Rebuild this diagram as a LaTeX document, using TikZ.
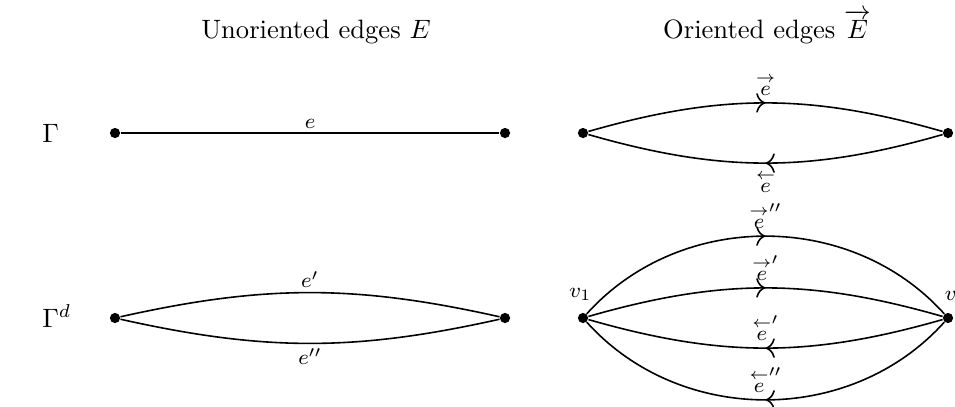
\documentclass[tikz,border=0pt]{standalone}
\usepackage{amsmath,amssymb}
\usepackage{tikz}
\usetikzlibrary{arrows.meta, decorations.markings}

\begin{document}
\begin{tikzpicture}[
    x=0.01323cm, y=-0.01323cm,
    dot/.style={circle, fill, inner sep=0pt, minimum size=0.135cm},
    edge/.style={semithick},
    lbl/.style={font=\footnotesize, inner sep=1.5pt},
    midarrow/.style={postaction={decorate}, decoration={markings,
        mark=at position 0.5 with {\arrow{Computer Modern Rightarrow[scale=1.2]}}}},
  ]
    \useasboundingbox (0,0) rectangle (955,406);

    % Titles
    \node[anchor=base, inner sep=1pt] (tunor) at (316,38) {Unoriented edges $E$};
    \node[anchor=base, inner sep=1pt] (tor) at (767,38) {Oriented edges $\overrightarrow{E}$};
    \node[anchor=base west] (gam) at (33,142) {$\Gamma$};
    \node[anchor=base west] (gamd) at (33,327) {$\Gamma^d$};

    % Nodes
    \node[dot] (ga) at (115,133) {};
    \node[dot] (gb) at (505,133) {};
    \node[dot] (da) at (115,318) {};
    \node[dot] (db) at (505,318) {};
    \node[dot] (oa) at (583,133) {};
    \node[dot] (ob) at (948,133) {};
    \node[dot, label={[font=\footnotesize, label distance=1pt, xshift=-1pt]above:$v_1$}] (v1) at (583,318) {};
    \node[dot, label={[font=\footnotesize, label distance=1pt, xshift=1pt]above:$v$}] (v) at (948,318) {};

    % Unoriented edges
    \draw[edge] (ga) -- node[lbl, above] {$e$} (gb);
    \draw[edge] (da) to[bend left=12.6] node[lbl, above] {$e'$} (db);
    \draw[edge] (db) to[bend left=12.6] node[lbl, below] {$e''$} (da);

    % Oriented edges
    \draw[edge, midarrow] (oa) to[bend left=16] node[lbl, above=1pt] {$\overset{\rightarrow}{e}$} (ob);
    \draw[edge, midarrow] (ob) to[bend left=16] node[lbl, below=1pt] {$\overset{\leftarrow}{e}$} (oa);
    \draw[edge, midarrow] (v1) to[bend left=48] node[lbl, above=1pt] {$\overset{\rightarrow}{e}''$} (v);
    \draw[edge, midarrow] (v1) to[bend left=16] node[lbl, above=1pt] {$\overset{\rightarrow}{e}'$} (v);
    \draw[edge, midarrow] (v) to[bend left=16] node[lbl, above=1pt] {$\overset{\leftarrow}{e}'$} (v1);
    \draw[edge, midarrow] (v) to[bend left=48] node[lbl, above=1pt] {$\overset{\leftarrow}{e}''$} (v1);

  \end{tikzpicture}
\end{document}
